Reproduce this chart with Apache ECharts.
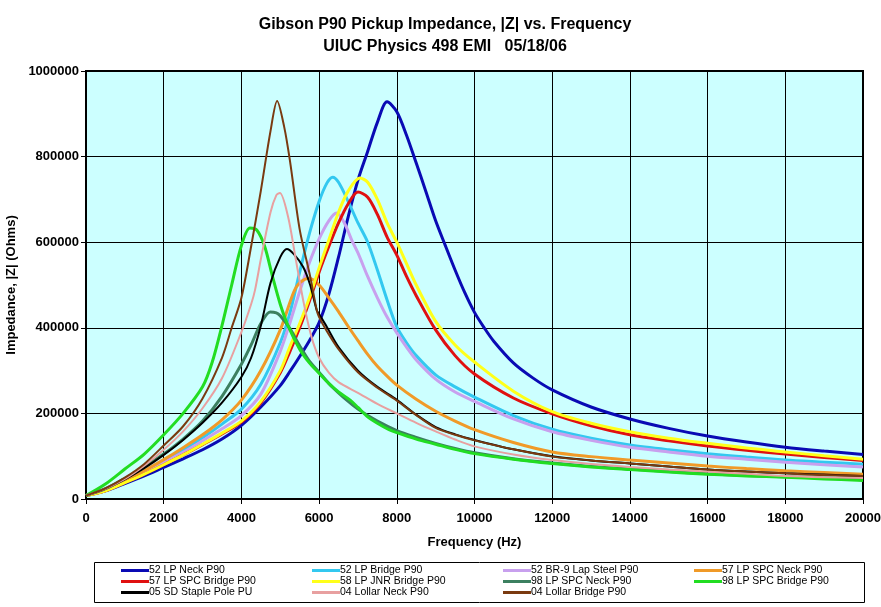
<!DOCTYPE html>
<html>
<head>
<meta charset="utf-8">
<script src="https://cdn.jsdelivr.net/npm/echarts@6/dist/echarts.min.js"></script>
<style>html,body{margin:0;padding:0;background:#fff}#c{width:881px;height:607px}</style>
</head>
<body>
<div id="c"></div>
<script>
// Values: [frequency Hz, |Z| in kOhm]
const lpNeck52 = [[0,8],[500,19],[1000,36],[1500,54],[2000,74],[2500,94],[3000,115],[3500,140],[4000,172],[4500,215],[5000,265],[5250,298],[5500,333],[5750,370],[6000,412],[6250,478],[6500,565],[6750,660],[7000,745],[7250,812],[7500,880],[7750,928],[8000,905],[8250,850],[8500,785],[8750,718],[9000,650],[9250,592],[9500,535],[9750,482],[10000,436],[10250,400],[10500,368],[11000,318],[11500,283],[12000,255],[13000,215],[14000,187],[15000,165],[16000,147],[17000,133],[18000,121],[19000,112],[20000,104]];
const lpBridge52 = [[0,8],[500,21],[1000,41],[1500,63],[2000,88],[2500,114],[3000,143],[3500,175],[4000,210],[4500,268],[5000,365],[5250,435],[5500,530],[5750,620],[6000,695],[6200,738],[6350,752],[6500,740],[6750,695],[7000,645],[7250,600],[7500,535],[7750,465],[8000,402],[8250,365],[8500,335],[9000,290],[9500,262],[10000,238],[11000,195],[12000,163],[13000,142],[14000,126],[15000,115],[16000,106],[17000,98],[18000,91],[19000,86],[20000,81]];
const br9Lap52 = [[0,8],[500,20],[1000,40],[1500,61],[2000,85],[2500,109],[3000,136],[3500,164],[4000,195],[4500,245],[5000,345],[5250,412],[5500,485],[5750,552],[6000,608],[6250,650],[6450,668],[6650,645],[6840,605],[7000,575],[7250,520],[7500,470],[7750,425],[8000,388],[8250,355],[8500,325],[9000,280],[9500,250],[10000,228],[11000,187],[12000,157],[13000,137],[14000,121],[15000,110],[16000,100],[17000,93],[18000,86],[19000,80],[20000,75]];
const spcNeck57 = [[0,8],[500,22],[1000,43],[1500,66],[2000,92],[2500,120],[3000,150],[3500,185],[4000,231],[4500,300],[5000,395],[5340,482],[5500,505],[5750,516],[6000,500],[6250,470],[6500,438],[6750,403],[7000,370],[7250,338],[7500,310],[7750,287],[8000,266],[8500,233],[9000,205],[9500,182],[10000,162],[11000,132],[12000,110],[13000,99],[14000,91],[15000,84],[16000,77],[17000,71],[18000,66],[19000,62],[20000,58]];
const spcBridge57 = [[0,8],[500,19],[1000,38],[1500,58],[2000,80],[2500,103],[3000,127],[3500,152],[4000,180],[4500,225],[5000,295],[5250,345],[5500,400],[5750,462],[6000,530],[6250,590],[6500,645],[6750,690],[7000,717],[7250,705],[7500,665],[7750,612],[8000,570],[8250,520],[8500,475],[9000,395],[9500,335],[10000,292],[11000,236],[12000,199],[13000,171],[14000,150],[15000,136],[16000,124],[17000,114],[18000,105],[19000,97],[20000,90]];
const jnrBridge58 = [[0,8],[500,19],[1000,38],[1500,58],[2000,80],[2500,103],[3000,128],[3500,154],[4000,182],[4500,228],[5000,300],[5250,356],[5500,410],[5750,470],[6000,540],[6250,605],[6500,670],[6750,720],[7050,750],[7250,740],[7500,700],[7750,645],[8000,600],[8250,550],[8500,500],[9000,415],[9500,360],[10000,320],[11000,252],[12000,204],[13000,177],[14000,157],[15000,142],[16000,130],[17000,119],[18000,110],[19000,101],[20000,93]];
const spcNeck98 = [[0,8],[500,24],[1000,48],[1500,75],[2000,105],[2500,140],[3000,182],[3500,240],[4000,315],[4250,360],[4500,410],[4740,437],[4900,435],[5000,428],[5250,398],[5500,358],[5750,322],[6000,296],[6250,270],[6500,248],[6750,228],[7000,210],[7500,182],[8000,160],[8500,144],[9000,130],[9500,118],[10000,108],[11000,94],[12000,84],[13000,76],[14000,70],[15000,64],[16000,59],[17000,55],[18000,52],[19000,49],[20000,45]];
const spcBridge98 = [[0,8],[500,35],[1000,70],[1500,105],[2000,150],[2500,200],[3000,262],[3250,320],[3500,405],[3750,500],[4000,592],[4220,633],[4400,628],[4600,590],[4800,520],[5000,455],[5200,405],[5500,350],[5750,318],[6000,294],[6250,270],[6500,250],[6800,231],[7000,214],[7250,192],[7500,177],[7800,162],[8000,155],[8500,140],[9000,128],[9500,116],[10000,106],[11000,93],[12000,83],[13000,75],[14000,69],[15000,63],[16000,58],[17000,54],[18000,51],[19000,47],[20000,43]];
const sdStaple05 = [[0,8],[500,24],[1000,46],[1500,72],[2000,103],[2500,138],[3000,178],[3500,225],[4000,285],[4250,330],[4500,405],[4750,505],[5000,565],[5170,584],[5350,572],[5590,542],[5770,500],[5940,441],[6000,432],[6200,402],[6500,355],[7000,300],[7500,262],[8000,232],[8500,197],[9000,168],[9500,151],[10000,138],[11000,116],[12000,100],[13000,90],[14000,83],[15000,76],[16000,69],[17000,64],[18000,60],[19000,57],[20000,54]];
const lollarNeck04 = [[0,8],[500,24],[1000,47],[1500,78],[2000,115],[2500,158],[3000,212],[3500,282],[4000,390],[4250,455],[4350,488],[4500,560],[4750,670],[4900,710],[4990,715],[5200,660],[5400,560],[5600,460],[5800,380],[6000,330],[6250,295],[6500,273],[7000,248],[7500,222],[8000,200],[8500,178],[9000,158],[9500,139],[10000,123],[11000,104],[12000,91],[13000,82],[14000,75],[15000,69],[16000,64],[17000,59],[18000,54],[19000,51],[20000,49]];
const lollarBridge04 = [[0,8],[500,25],[1000,50],[1500,82],[2000,125],[2500,170],[3000,235],[3500,330],[3750,400],[4000,470],[4250,590],[4500,720],[4750,860],[4920,930],[5100,870],[5250,790],[5500,630],[5770,520],[5940,441],[6000,425],[6200,392],[6500,350],[7000,296],[7500,260],[8000,230],[8500,196],[9000,166],[9500,150],[10000,137],[11000,116],[12000,99],[13000,90],[14000,83],[15000,76],[16000,69],[17000,64],[18000,60],[19000,56],[20000,54]];

const seriesNames = ['52 LP Neck P90','52 LP Bridge P90','52 BR-9 Lap Steel P90','57 LP SPC Neck P90','57 LP SPC Bridge P90','58 LP JNR Bridge P90','98 LP SPC Neck P90','98 LP SPC Bridge P90','05 SD Staple Pole PU','04 Lollar Neck P90','04 Lollar Bridge P90'];
const seriesData = [lpNeck52, lpBridge52, br9Lap52, spcNeck57, spcBridge57, jnrBridge58, spcNeck98, spcBridge98, sdStaple05, lollarNeck04, lollarBridge04];
const colors = ['#0A0AB4','#33C8F0','#C8A0EE','#F09A28','#E01010','#FFFF1A','#3C8060','#22DD22','#000000','#E8A0A0','#7A3A10'];
const widths = [3,3,3,3,3,3,3,3,2,2,2];
const xTicks = {min:0, max:20000, step:2000};
const yTicks = {min:0, max:1000000, step:200000};

const chart = echarts.init(document.getElementById('c'), null, {renderer:'canvas'});
const arial = '"Liberation Sans",Arial,sans-serif';

const series = seriesNames.map((n,i)=>({
  name:n, type:'line', showSymbol:false, smooth:0.3, animation:false,
  data: seriesData[i].map(p=>[p[0], p[1]*1000]),
  lineStyle:{color:colors[i], width:widths[i]},
  itemStyle:{color:colors[i]}
}));

const legendCols = [
  {left:121, names:[seriesNames[0], seriesNames[4], seriesNames[8]]},
  {left:312, names:[seriesNames[1], seriesNames[5], seriesNames[9]]},
  {left:503, names:[seriesNames[2], seriesNames[6], seriesNames[10]]},
  {left:694, names:[seriesNames[3], seriesNames[7]]}
];

chart.setOption({
  backgroundColor:'#ffffff',
  animation:false,
  title:{
    text:'Gibson P90 Pickup Impedance, |Z| vs. Frequency\nUIUC Physics 498 EMI   05/18/06',
    left:440, top:9, textAlign:'center',
    textStyle:{fontFamily:arial, fontSize:16, fontWeight:'bold', color:'#000', lineHeight:22}
  },
  legend: legendCols.map(c=>({
    orient:'vertical', left:c.left, top:565, padding:0, itemGap:0,
    itemWidth:28, itemHeight:3, icon:'rect', selectedMode:false,
    data:c.names,
    textStyle:{fontFamily:arial, fontSize:10.5, lineHeight:11, color:'#000', padding:[0,0,0,-5]}
  })),
  graphic:[{type:'rect', shape:{x:94.5, y:562.5, width:770, height:40}, style:{fill:'none', stroke:'#000', lineWidth:1}, silent:true}],
  grid:{left:86, right:18, top:71, bottom:108, show:true, backgroundColor:'#CCFFFF', borderColor:'#000', borderWidth:2, containLabel:false, outerBoundsMode:'none'},
  xAxis:{
    type:'value', min:xTicks.min, max:xTicks.max, interval:xTicks.step,
    name:'Frequency (Hz)', nameLocation:'middle', nameGap:37,
    nameTextStyle:{fontFamily:arial, fontSize:13, fontWeight:'bold', color:'#000'},
    axisLine:{lineStyle:{color:'#000', width:2}},
    axisTick:{length:5, lineStyle:{color:'#000', width:1}},
    axisLabel:{fontFamily:arial, fontSize:13, fontWeight:'bold', color:'#000', margin:13, formatter:v=>String(v)},
    splitLine:{show:true, lineStyle:{color:'#000', width:1}}
  },
  yAxis:{
    type:'value', min:yTicks.min, max:yTicks.max, interval:yTicks.step,
    name:'Impedance, |Z| (Ohms)', nameLocation:'middle', nameGap:64, nameRotate:90,
    nameTextStyle:{fontFamily:arial, fontSize:13, fontWeight:'bold', color:'#000'},
    axisLine:{show:true, lineStyle:{color:'#000', width:2}},
    axisTick:{show:true, length:5, lineStyle:{color:'#000', width:1}},
    axisLabel:{fontFamily:arial, fontSize:13, fontWeight:'bold', color:'#000', margin:7, formatter:v=>String(v)},
    splitLine:{show:true, lineStyle:{color:'#000', width:1}}
  },
  series: series
});
</script>
</body>
</html>
